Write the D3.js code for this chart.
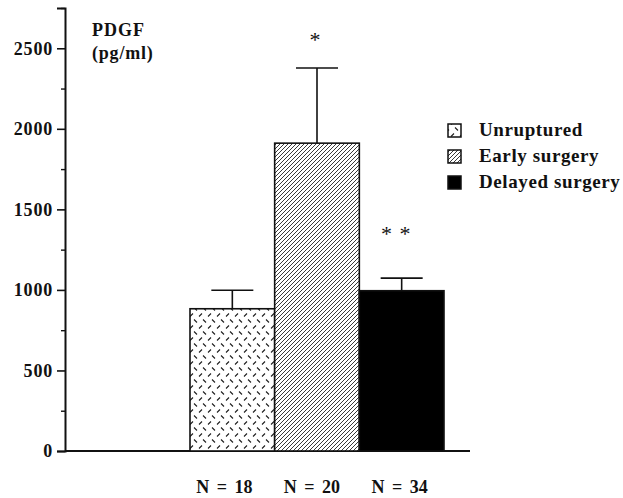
<!DOCTYPE html>
<html><head><meta charset="utf-8">
<script src="https://cdn.jsdelivr.net/npm/d3@7"></script>
<style>body{margin:0;background:#fff}svg{display:block}text{font-family:"Liberation Serif","Times New Roman",serif;font-weight:bold;fill:#111}</style>
</head><body>
<script>
const categories = ["Unruptured", "Early surgery", "Delayed surgery"];
const means = [883, 1911, 995];
const errors = [115, 467, 78];
const nLabels = ["N = 18", "N = 20", "N = 34"];
const stars = ["", "*", "* *"];
const majorTicks = [0, 500, 1000, 1500, 2000, 2500];
const minorTicks = [250, 750, 1250, 1750, 2250, 2750];

const W = 623, H = 498;
const svg = d3.select("body").append("svg").attr("width", W).attr("height", H);
const defs = svg.append("defs");

// dashed pattern
const p1 = defs.append("pattern").attr("id","pDash").attr("patternUnits","userSpaceOnUse").attr("width",9).attr("height",12);
p1.append("rect").attr("width",9).attr("height",12).attr("fill","#fff");
p1.append("path").attr("d","M1,4.5 L4,1.5 M5,7.5 L8,10.5").attr("stroke","#222").attr("stroke-width",1.1);
// hatch pattern
const p2 = defs.append("pattern").attr("id","pHatch").attr("patternUnits","userSpaceOnUse").attr("width",4).attr("height",4);
p2.append("rect").attr("width",4).attr("height",4).attr("fill","#fff");
p2.append("path").attr("d","M-1,1 L1,-1 M0,4 L4,0 M3,5 L5,3").attr("stroke","#222").attr("stroke-width",0.9);

const fills = ["url(#pDash)", "url(#pHatch)", "#000"];

const y = d3.scaleLinear().domain([0, 2750]).range([451, 8]);
const x = d3.scaleBand().domain(categories).range([190, 444]).paddingInner(0).paddingOuter(0);

// axes
const yAxis = d3.axisLeft(y).tickValues(majorTicks).tickSize(8).tickPadding(4).tickFormat(d3.format("d"));
const gy = svg.append("g").attr("transform","translate(65,0)").call(yAxis);
gy.select(".domain").attr("stroke","#111").attr("stroke-width",2);
gy.selectAll(".tick line").attr("stroke","#111").attr("stroke-width",1.6);
gy.selectAll(".tick text").style("font-size","18px").style("letter-spacing","0.8px").style("font-family","'Liberation Serif',serif").style("font-weight","bold").attr("fill","#111");
const gm = svg.append("g").attr("transform","translate(65,0)").call(d3.axisLeft(y).tickValues(minorTicks).tickSize(4).tickFormat(""));
gm.select(".domain").remove();
gm.selectAll(".tick line").attr("stroke","#111").attr("stroke-width",1.4);

// baseline
svg.append("line").attr("x1",65).attr("x2",470).attr("y1",y(0)).attr("y2",y(0)).attr("stroke","#111").attr("stroke-width",2);

// bars
svg.selectAll(".bar").data(categories).enter().append("rect")
  .attr("x", d => x(d)).attr("width", x.bandwidth())
  .attr("y", (d,i) => y(means[i])).attr("height", (d,i) => y(0) - y(means[i]))
  .attr("fill", (d,i) => fills[i]).attr("stroke","#111").attr("stroke-width",1.6);

// error bars
const starGap = [0, 28, 44];
categories.forEach((c,i) => {
  const cx = x(c) + x.bandwidth()/2;
  svg.append("line").attr("x1",cx).attr("x2",cx).attr("y1",y(means[i])).attr("y2",y(means[i]+errors[i])).attr("stroke","#111").attr("stroke-width",1.6);
  svg.append("line").attr("x1",cx-21).attr("x2",cx+21).attr("y1",y(means[i]+errors[i])).attr("y2",y(means[i]+errors[i])).attr("stroke","#111").attr("stroke-width",1.6);
  svg.append("text").attr("x",cx - (i===2?6:2)).attr("y",y(means[i]+errors[i]) - starGap[i] + 7).attr("text-anchor","middle")
    .style("font-size","22px").style("font-weight","normal").style("word-spacing","2px").text(stars[i]);
  svg.append("text").attr("x",cx - 8 + i*3).attr("y",493).attr("text-anchor","middle").style("font-size","18px").style("word-spacing","3px").text(nLabels[i]);
});

// title
svg.append("text").attr("x",92).attr("y",36).style("font-size","18px").style("letter-spacing","1px").text("PDGF");
svg.append("text").attr("x",92).attr("y",59).style("font-size","18px").style("letter-spacing","0.8px").text("(pg/ml)");

// legend
const lg = svg.append("g");
categories.forEach((c,i) => {
  const ly = 130 + i*26;
  lg.append("rect").attr("x",448).attr("y",ly-6).attr("width",13).attr("height",13).attr("fill",fills[i]).attr("stroke","#111").attr("stroke-width",1.5);
  lg.append("text").attr("x",479).attr("y",ly+6).style("font-size","19px").style("letter-spacing","0.6px").text(c);
});
</script>
</body></html>
